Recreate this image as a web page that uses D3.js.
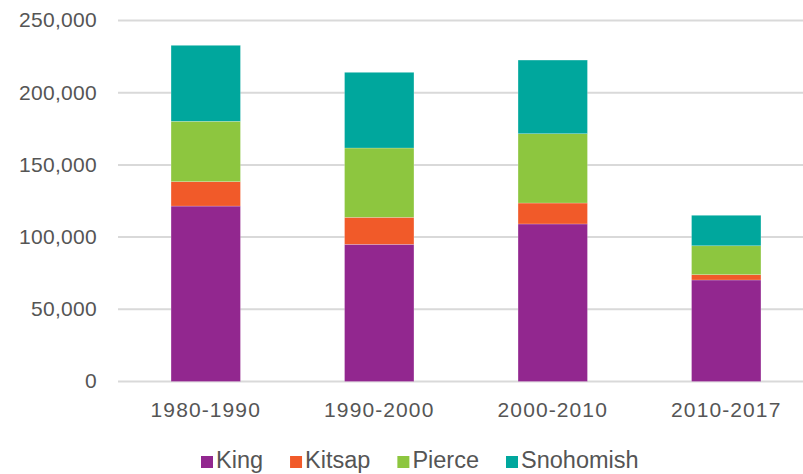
<!DOCTYPE html>
<html>
<head>
<meta charset="utf-8">
<style>
body {
  margin: 0;
  background: #ffffff;
  width: 803px;
  height: 474px;
  overflow: hidden;
}
text {
  font-family: "Liberation Sans", Arial, Helvetica, sans-serif;
  fill: #555555;
}
.grid line {
  stroke: #d9d9d9;
  stroke-width: 2;
}
</style>
</head>
<body>
<svg width="803" height="474"></svg>
<script src="https://cdnjs.cloudflare.com/ajax/libs/d3/7.8.5/d3.min.js"></script>
<script>

// periods on the x axis
var periods = ["1980-1990", "1990-2000", "2000-2010", "2010-2017"];

// counties, bottom to top in each stack
var counties = ["King", "Kitsap", "Pierce", "Snohomish"];
var countyColors = ["#92278f", "#f15a29", "#8dc63f", "#00a79d"];

// values, one per period
var king      = [121500, 95000, 109100, 70300];
var kitsap    = [16900, 18700, 14500, 3700];
var pierce    = [41800, 48000, 48000, 20000];
var snohomish = [52600, 52400, 51000, 21100];

var yTicks = [0, 50000, 100000, 150000, 200000, 250000];

var rows = periods.map(function(p, i) {
  return {period: p, King: king[i], Kitsap: kitsap[i], Pierce: pierce[i], Snohomish: snohomish[i]};
});

var svg = d3.select("svg");

var x = d3.scaleBand()
    .domain(periods)
    .range([119, 813])
    .paddingInner(0.6)
    .paddingOuter(0.3);

var y = d3.scaleLinear()
    .domain([0, 250000])
    .range([381.5, 20.5]);

var color = d3.scaleOrdinal().domain(counties).range(countyColors);

// gridlines
svg.append("g")
    .attr("class", "grid")
  .selectAll("line")
  .data(yTicks)
  .enter().append("line")
    .attr("x1", 118)
    .attr("x2", 803)
    .attr("y1", function(d) { return y(d); })
    .attr("y2", function(d) { return y(d); });

// y axis labels
var yAxis = d3.axisLeft(y)
    .tickValues(yTicks)
    .tickFormat(d3.format(","))
    .tickSize(0)
    .tickPadding(0);

svg.append("g")
    .attr("transform", "translate(97,0)")
    .call(yAxis)
    .call(function(g) { g.select(".domain").remove(); })
    .selectAll("text")
      .attr("font-family", null)
      .attr("dy", "0.3em")
      .style("font-size", "21px")
      .style("letter-spacing", "0.3px");

// stacked bars
var series = d3.stack().keys(counties)(rows);

svg.append("g")
  .selectAll("g")
  .data(series)
  .enter().append("g")
    .attr("fill", function(d) { return color(d.key); })
  .selectAll("rect")
  .data(function(d) { return d; })
  .enter().append("rect")
    .attr("x", function(d) { return x(d.data.period); })
    .attr("y", function(d) { return y(d[1]); })
    .attr("height", function(d) { return y(d[0]) - y(d[1]); })
    .attr("width", x.bandwidth())
    .attr("stroke", "rgba(255,255,255,0.35)")
    .attr("stroke-width", 0.6);

// x axis labels
var xAxis = d3.axisBottom(x).tickSize(0).tickPadding(0);

svg.append("g")
    .attr("transform", "translate(0,417)")
    .call(xAxis)
    .call(function(g) { g.select(".domain").remove(); })
    .selectAll("text")
      .attr("font-family", null)
      .attr("dy", "0")
      .style("font-size", "21px")
      .style("letter-spacing", "1.1px");

// legend
var legend = svg.append("g").attr("transform", "translate(201,468)");
var lx = 0;
counties.forEach(function(c) {
  var item = legend.append("g").attr("transform", "translate(" + lx + ",0)");
  item.append("rect")
      .attr("x", 0)
      .attr("y", -12)
      .attr("width", 12)
      .attr("height", 12)
      .attr("fill", color(c));
  var t = item.append("text")
      .attr("x", 15)
      .attr("y", 0)
      .style("font-size", "23.5px")
      .text(c);
  lx += 15 + t.node().getComputedTextLength() + 27;
});

</script>
</body>
</html>
